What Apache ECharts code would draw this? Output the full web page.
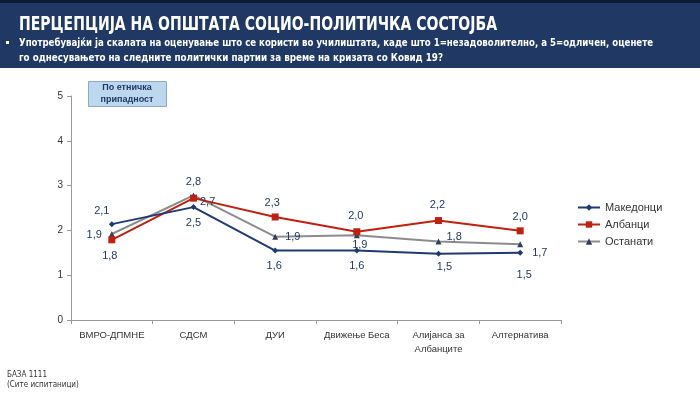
<!DOCTYPE html>
<html><head><meta charset="utf-8">
<script src="https://cdn.jsdelivr.net/npm/echarts@6/dist/echarts.min.js"></script>
<style>html,body{margin:0;padding:0;background:#fff}#c{width:700px;height:399px}</style>
</head><body><div id="c"></div>
<script>
const categories = ['ВМРО-ДПМНЕ', 'СДСМ', 'ДУИ', 'Движење Беса', 'Алијанса за\nАлбанците', 'Алтернатива'];
const seriesNames = ['Македонци', 'Албанци', 'Останати'];
const makedonci = [2.14, 2.52, 1.55, 1.55, 1.48, 1.50];
const albanci = [1.79, 2.72, 2.30, 1.97, 2.22, 1.99];
const ostanati = [1.92, 2.78, 1.86, 1.89, 1.75, 1.69];
const yTicks = [0, 1, 2, 3, 4, 5];

const titleText = 'ПЕРЦЕПЦИЈА НА ОПШТАТА СОЦИО-ПОЛИТИЧКА СОСТОЈБА';
const subLine1 = 'Употребувајќи ја скалата на оценување што се користи во училиштата, каде што 1=незадоволително, а 5=одличен, оценете';
const subLine2 = 'го однесувањето на следните политички партии за време на кризата со Ковид 19?';

const labelPos = {
  makedonci: [['top', [-10, 0]], ['bottom', [0, 2]], ['bottom', [-1, 2]], ['bottom', [0, 2]], ['bottom', [6, 0]], ['bottom', [4, 9]]],
  albanci: [['bottom', [-2, 2]], ['right', [-2, 4]], ['top', [-3, 0]], ['top', [-1, -2]], ['top', [-1, -2]], ['top', [0, 0]]],
  ostanati: [['left', [-2, 1]], ['top', [0, 0]], ['right', [2, 0]], ['bottom', [3, -4]], ['right', [0, -5]], ['right', [4, 9]]]
};

const fmt = v => v.toFixed(1).replace('.', ',');
function build(vals, pos) {
  return vals.map((v, i) => ({ value: v, label: { position: pos[i][0], offset: pos[i][1] } }));
}
const mctx = document.createElement('canvas').getContext('2d');
function fitScale(text, font, target) {
  mctx.font = font;
  return target / mctx.measureText(text).width;
}
const titleFont = 'bold 20px "Liberation Sans Narrow", "DejaVu Sans Condensed", Arial';
const subFont = 'bold 11px "Liberation Sans Narrow", "DejaVu Sans Condensed", Arial';
const sT = fitScale(titleText, titleFont, 478);
const s1 = fitScale(subLine1, subFont, 634);
const s2 = fitScale(subLine2, subFont, 424);

const labelStyle = { show: true, color: '#1f3864', fontSize: 11, fontFamily: 'Liberation Sans, Arial', formatter: p => fmt(p.value), distance: 5 };

const chart = echarts.init(document.getElementById('c'), null, { renderer: 'canvas' });
chart.setOption({
  animation: false,
  backgroundColor: '#fff',
  textStyle: { fontFamily: 'Liberation Sans, Arial' },
  graphic: [
    { type: 'rect', shape: { x: 0, y: 0, width: 700, height: 3 }, style: { fill: '#0d1a33' } },
    { type: 'rect', shape: { x: 0, y: 3, width: 700, height: 65 }, style: { fill: '#1f3864' } },
    { type: 'text', x: 19, y: 25, scaleX: sT, style: { text: titleText, fill: '#fff', font: titleFont, verticalAlign: 'middle' } },
    { type: 'rect', shape: { x: 6, y: 41, width: 3, height: 3 }, style: { fill: '#fff' } },
    { type: 'text', x: 19, y: 43, scaleX: s1, style: { text: subLine1, fill: '#fff', font: subFont, verticalAlign: 'middle' } },
    { type: 'text', x: 19, y: 58, scaleX: s2, style: { text: subLine2, fill: '#fff', font: subFont, verticalAlign: 'middle' } },
    { type: 'rect', shape: { x: 88.5, y: 81.5, width: 78, height: 25 }, style: { fill: '#bdd7ee', stroke: '#8eaacb', lineWidth: 1 } },
    { type: 'text', x: 127, y: 94, style: { text: 'По етничка\nприпадност', fill: '#1f3864', font: 'bold 9px "Liberation Sans", Arial', align: 'center', verticalAlign: 'middle', lineHeight: 12 } },
    { type: 'text', left: 7, top: 370, style: { text: 'БАЗА 1111\n(Сите испитаници)', fill: '#333', font: '8px "Liberation Sans Narrow", "DejaVu Sans Condensed", Arial', lineHeight: 10 } }
  ],
  legend: {
    orient: 'vertical', left: 572, top: 197, itemGap: 6, itemWidth: 22, itemHeight: 8,
    textStyle: { color: '#333', fontSize: 11 },
    data: seriesNames
  },
  grid: { left: 71, right: 139, top: 96, bottom: 79 },
  xAxis: {
    type: 'category', data: categories, boundaryGap: true,
    axisLine: { lineStyle: { color: '#999' } },
    axisTick: { show: true, length: 4, lineStyle: { color: '#999' } },
    axisLabel: { color: '#333', fontSize: 9.5, margin: 8, lineHeight: 14, interval: 0 }
  },
  yAxis: {
    type: 'value', min: 0, max: 5, interval: 1,
    axisLine: { show: true, lineStyle: { color: '#999' } },
    axisTick: { show: true, length: 4, lineStyle: { color: '#999' } },
    splitLine: { show: false },
    axisLabel: { color: '#333', fontSize: 10, margin: 8, formatter: v => yTicks.includes(v) ? String(v) : '' }
  },
  series: [
    { name: seriesNames[0], type: 'line', data: build(makedonci, labelPos.makedonci), color: '#1f3a73',
      lineStyle: { width: 2, color: '#1f3a73' }, symbol: 'diamond', symbolSize: 6, label: labelStyle, z: 3 },
    { name: seriesNames[1], type: 'line', data: build(albanci, labelPos.albanci), color: '#c0200f',
      lineStyle: { width: 2, color: '#c0200f' }, symbol: 'rect', symbolSize: 7, label: labelStyle, z: 2 },
    { name: seriesNames[2], type: 'line', data: build(ostanati, labelPos.ostanati), color: '#8c8c8c',
      lineStyle: { width: 2, color: '#8c8c8c' }, symbol: 'triangle', symbolSize: 6, itemStyle: { color: '#2f3f5f' }, label: labelStyle, z: 1 }
  ]
});
</script></body></html>
